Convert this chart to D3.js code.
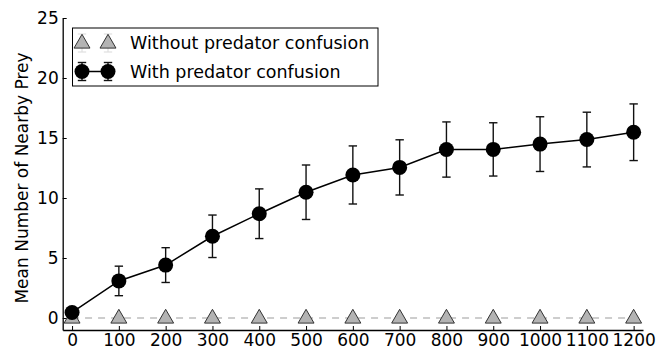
<!DOCTYPE html>
<html>
<head>
<meta charset="utf-8">
<script src="https://cdn.jsdelivr.net/npm/d3@7"></script>
<style>
  html, body { margin: 0; padding: 0; background: #fff; }
  svg { display: block; font-family: "DejaVu Sans", sans-serif; }
</style>
</head>
<body>
<svg id="chart" width="659" height="350"></svg>
<script>
// Number of predator attacks (x) and mean number of prey near the predator
const attacks = [0, 100, 200, 300, 400, 500, 600, 700, 800, 900, 1000, 1100, 1200];
const withConfusion = [0.46, 3.09, 4.41, 6.81, 8.69, 10.48, 11.92, 12.55, 14.04, 14.05, 14.49, 14.87, 15.48];
const withConfusionErr = [0.3, 1.23, 1.45, 1.77, 2.07, 2.27, 2.42, 2.3, 2.3, 2.22, 2.28, 2.28, 2.36];
const withoutConfusion = [0, 0, 0, 0, 0, 0, 0, 0, 0, 0, 0, 0, 0];
const withoutConfusionErr = [0, 0, 0, 0, 0, 0, 0, 0, 0, 0, 0, 0, 0];
const xTicks = [0, 100, 200, 300, 400, 500, 600, 700, 800, 900, 1000, 1100, 1200];
const yTicks = [0, 5, 10, 15, 20, 25];
const seriesNames = ["Without predator confusion", "With predator confusion"];
const yTitle = "Mean Number of Nearby Prey";

const svg = d3.select("#chart");
const x = d3.scaleLinear().domain([-20, 1220]).range([62.7, 643]);
const y = d3.scaleLinear().domain([-1, 25]).range([330, 18]);

const tickFont = 17;
const legendFont = 17.5;

// Axes: left and bottom spines only, ticks pointing into the plot
const yAxis = svg.append("g")
  .attr("transform", `translate(${x(-20)},0)`)
  .call(d3.axisLeft(y).tickValues(yTicks).tickFormat(d3.format("d"))
    .tickSize(-4).tickPadding(4).tickSizeOuter(0));
const xAxis = svg.append("g")
  .attr("transform", `translate(0,${y(-1)})`)
  .call(d3.axisBottom(x).tickValues(xTicks).tickFormat(d3.format("d"))
    .tickSize(-4).tickPadding(4).tickSizeOuter(0));
[yAxis, xAxis].forEach(g => {
  g.select(".domain").attr("stroke", "#000").attr("stroke-width", 1.3);
  g.selectAll(".tick line").attr("stroke", "#000").attr("stroke-width", 1);
  g.selectAll(".tick text").attr("fill", "#000")
    .style("font-size", tickFont + "px").style("font-family", "DejaVu Sans");
});

svg.append("text")
  .attr("transform", `translate(22,${(y(25) + y(-1)) / 2 + 4}) rotate(-90)`)
  .attr("text-anchor", "middle")
  .attr("dy", "0.35em")
  .style("font-size", "17px")
  .attr("fill", "#000")
  .text(yTitle);

// Triangle marker path
const tri = d3.symbol().type(d3.symbolTriangle).size(110);

// Series without confusion: dashed grey line with grey triangles
const lineGen = d3.line().x((d, i) => x(attacks[i])).y(d => y(d));
svg.append("path")
  .datum(withoutConfusion)
  .attr("d", lineGen)
  .attr("fill", "none")
  .attr("stroke", "#bdbdbd")
  .attr("stroke-width", 1.5)
  .attr("stroke-dasharray", "7,6");
svg.append("g").selectAll("path")
  .data(withoutConfusion)
  .join("path")
  .attr("d", tri)
  .attr("transform", (d, i) => `translate(${x(attacks[i])},${y(d) + 0.5})`)
  .attr("fill", "#b3b3b3")
  .attr("stroke", "#333")
  .attr("stroke-width", 1);

// Series with confusion: error bars, solid line, black circles
const capW = 4.2;
const eb = svg.append("g").attr("stroke", "#111").attr("stroke-width", 1.4);
withConfusion.forEach((v, i) => {
  const cx = x(attacks[i]);
  const lo = y(v - withConfusionErr[i]);
  const hi = y(v + withConfusionErr[i]);
  eb.append("line").attr("x1", cx).attr("x2", cx).attr("y1", lo).attr("y2", hi);
  eb.append("line").attr("x1", cx - capW).attr("x2", cx + capW).attr("y1", lo).attr("y2", lo);
  eb.append("line").attr("x1", cx - capW).attr("x2", cx + capW).attr("y1", hi).attr("y2", hi);
});
svg.append("path")
  .datum(withConfusion)
  .attr("d", lineGen)
  .attr("fill", "none")
  .attr("stroke", "#000")
  .attr("stroke-width", 1.5);
svg.append("g").selectAll("circle")
  .data(withConfusion)
  .join("circle")
  .attr("cx", (d, i) => x(attacks[i]))
  .attr("cy", d => y(d))
  .attr("r", 7.5)
  .attr("fill", "#000");

// Legend
const legend = svg.append("g");
legend.append("rect")
  .attr("x", 72.5).attr("y", 28).attr("width", 305.5).attr("height", 58)
  .attr("fill", "#fff").attr("stroke", "#000").attr("stroke-width", 1);
const rows = [43, 71.5];
const mx = [82, 108];
// row 1: grey triangles with faint error caps
mx.forEach(px => {
  legend.append("line").attr("x1", px).attr("x2", px).attr("y1", rows[0] - 9).attr("y2", rows[0] + 9)
    .attr("stroke", "#e0e0e0").attr("stroke-width", 1.2);
  [rows[0] - 9, rows[0] + 9].forEach(cy => legend.append("line")
    .attr("x1", px - capW).attr("x2", px + capW).attr("y1", cy).attr("y2", cy)
    .attr("stroke", "#e0e0e0").attr("stroke-width", 1.2));
  legend.append("path").attr("d", tri)
    .attr("transform", `translate(${px},${rows[0] + 0.5})`)
    .attr("fill", "#b3b3b3").attr("stroke", "#333").attr("stroke-width", 1);
});
// row 2: black circles joined by a line, with error caps
legend.append("line").attr("x1", mx[0]).attr("x2", mx[1]).attr("y1", rows[1]).attr("y2", rows[1])
  .attr("stroke", "#000").attr("stroke-width", 1.5);
mx.forEach(px => {
  legend.append("line").attr("x1", px).attr("x2", px).attr("y1", rows[1] - 9).attr("y2", rows[1] + 9)
    .attr("stroke", "#111").attr("stroke-width", 1.4);
  [rows[1] - 9, rows[1] + 9].forEach(cy => legend.append("line")
    .attr("x1", px - capW).attr("x2", px + capW).attr("y1", cy).attr("y2", cy)
    .attr("stroke", "#111").attr("stroke-width", 1.4));
  legend.append("circle").attr("cx", px).attr("cy", rows[1]).attr("r", 7.5).attr("fill", "#000");
});
seriesNames.forEach((name, i) => {
  legend.append("text")
    .attr("x", 130).attr("y", rows[i])
    .attr("dy", "0.35em")
    .style("font-size", legendFont + "px")
    .attr("fill", "#000")
    .text(name);
});
</script>
</body>
</html>
